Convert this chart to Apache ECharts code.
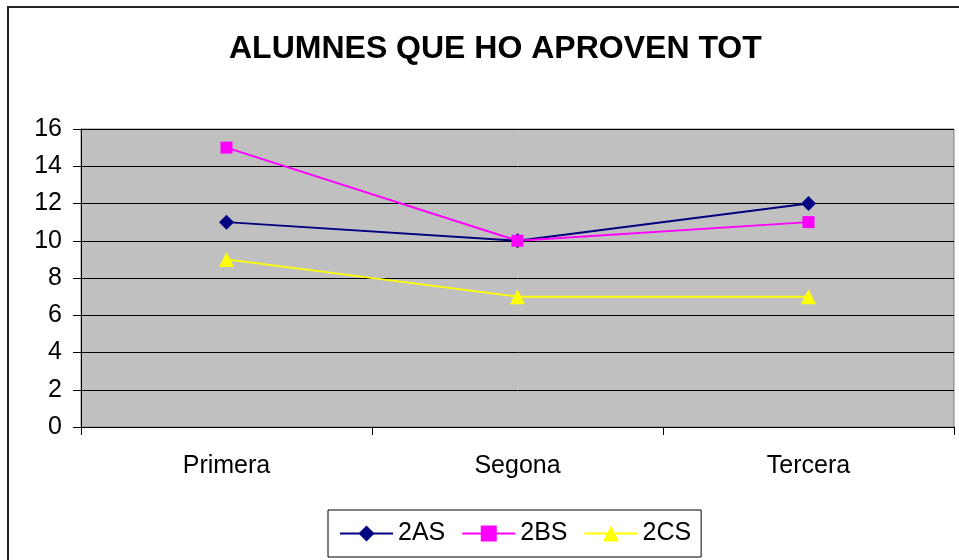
<!DOCTYPE html>
<html>
<head>
<meta charset="utf-8">
<script src="https://cdn.jsdelivr.net/npm/echarts@6/dist/echarts.min.js"></script>
<style>
  html, body { margin: 0; padding: 0; background: #fff; }
  #chart { width: 959px; height: 560px; }
</style>
</head>
<body>
<div id="chart"></div>
<script>
var categories = ['Primera', 'Segona', 'Tercera'];
var serie2AS = [11, 10, 12];
var serie2BS = [15, 10, 11];
var serie2CS = [9, 7, 7];
var yTicks = [0, 2, 4, 6, 8, 10, 12, 14, 16];

var myChart = echarts.init(document.getElementById('chart'));

// text style shared by axis labels and legend
var txt = { fontFamily: 'Liberation Sans, Arial, sans-serif', fontSize: 25, color: '#000' };

var option = {
    animation: false,
    backgroundColor: '#fff',
    graphic: [{
        type: 'rect',
        shape: { x: 8, y: 7, width: 1000, height: 600 },
        style: { fill: 'none', stroke: '#222', lineWidth: 2 },
        silent: true
    }],
    title: {
        text: 'ALUMNES QUE HO APROVEN TOT',
        left: 224,
        top: 28,
        textStyle: { fontFamily: 'Liberation Sans, Arial, sans-serif', fontSize: 32, fontWeight: 'bold', color: '#000' }
    },
    grid: {
        left: 81, right: 5, top: 129, bottom: 133,
        show: true,
        backgroundColor: '#C0C0C0',
        borderColor: '#808080',
        borderWidth: 1
    },
    legend: {
        bottom: 3,
        left: 328,
        data: ['2AS', '2BS', '2CS'],
        itemWidth: 53,
        itemHeight: 20,
        itemGap: 16,
        padding: [11, 10, 11, 11],
        borderColor: '#000',
        borderWidth: 1,
        textStyle: txt
    },
    xAxis: {
        type: 'category',
        data: categories,
        boundaryGap: true,
        axisLine: { lineStyle: { color: '#000', width: 1 } },
        axisTick: { show: true, length: 8, inside: false, lineStyle: { color: '#000' } },
        axisLabel: Object.assign({ margin: 27 }, txt),
        splitLine: { show: false }
    },
    yAxis: {
        type: 'value',
        min: yTicks[0],
        max: yTicks[yTicks.length - 1],
        interval: 2,
        axisLine: { show: true, lineStyle: { color: '#000', width: 1 } },
        axisTick: { show: true, length: 8, lineStyle: { color: '#000' } },
        axisLabel: Object.assign({ margin: 19 }, txt),
        splitLine: { show: true, lineStyle: { color: '#000', width: 1 } }
    },
    series: [
        {
            name: '2AS', type: 'line', data: serie2AS,
            symbol: 'diamond', symbolSize: 15,
            itemStyle: { color: '#000080' },
            lineStyle: { color: '#000080', width: 2 }
        },
        {
            name: '2BS', type: 'line', data: serie2BS,
            symbol: 'rect', symbolSize: 12,
            itemStyle: { color: '#FF00FF' },
            lineStyle: { color: '#FF00FF', width: 2 }
        },
        {
            name: '2CS', type: 'line', data: serie2CS,
            symbol: 'triangle', symbolSize: 15,
            itemStyle: { color: '#FFFF00' },
            lineStyle: { color: '#FFFF00', width: 2 }
        }
    ]
};

myChart.setOption(option);
</script>
</body>
</html>
